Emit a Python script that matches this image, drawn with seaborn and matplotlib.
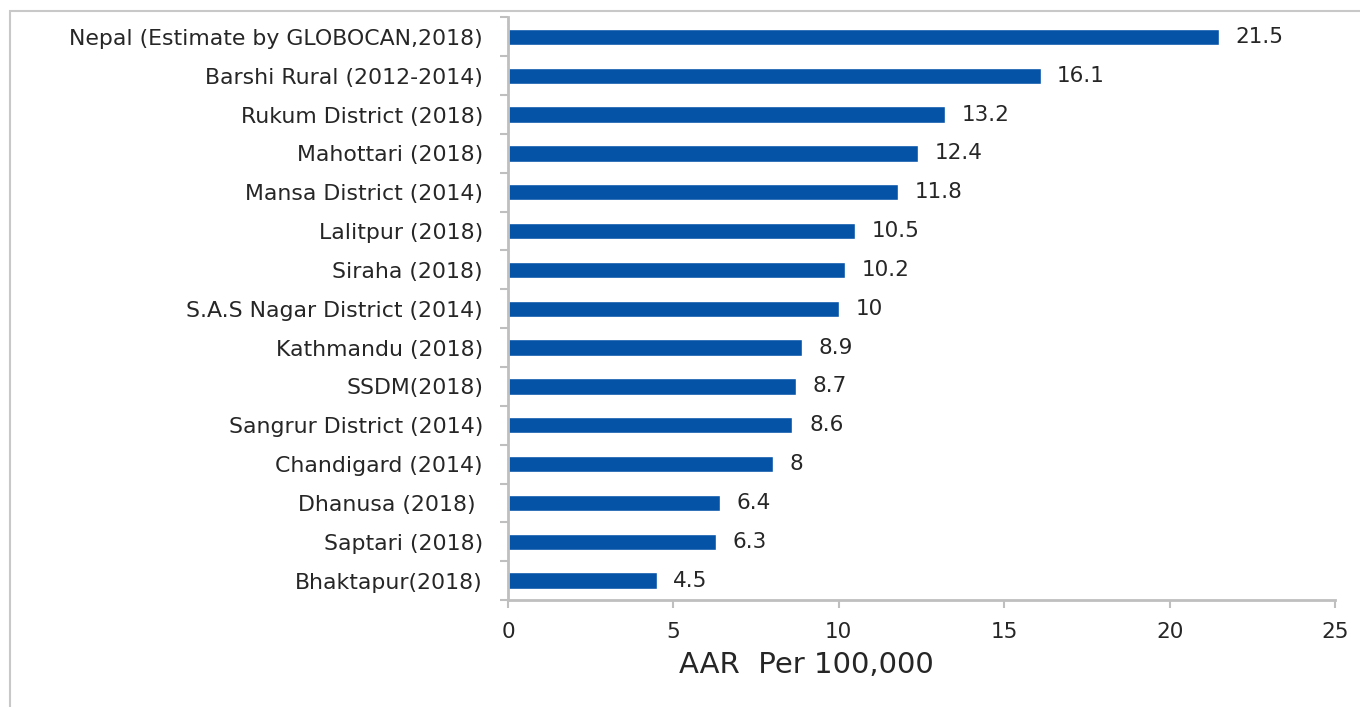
import numpy as np
import pandas as pd
import matplotlib
matplotlib.use("Agg")
import matplotlib.pyplot as plt
import seaborn as sns

# data (top to bottom)
places = ['Nepal (Estimate by GLOBOCAN,2018)', 'Barshi Rural (2012-2014)', 'Rukum District (2018)',
          'Mahottari (2018)', 'Mansa District (2014)', 'Lalitpur (2018)', 'Siraha (2018)',
          'S.A.S Nagar District (2014)', 'Kathmandu (2018)', 'SSDM(2018)', 'Sangrur District (2014)',
          'Chandigard (2014)', 'Dhanusa (2018) ', 'Saptari (2018)', 'Bhaktapur(2018)']
aar = [21.5, 16.1, 13.2, 12.4, 11.8, 10.5, 10.2, 10, 8.9, 8.7, 8.6, 8, 6.4, 6.3, 4.5]
value_labels = ['21.5', '16.1', '13.2', '12.4', '11.8', '10.5', '10.2', '10', '8.9', '8.7',
                '8.6', '8', '6.4', '6.3', '4.5']
xticks = [0, 5, 10, 15, 20, 25]

df = pd.DataFrame({'place': places, 'aar': aar})

sns.set_style('white')
plt.rcParams['font.family'] = ['DejaVu Sans']
txt = '#262626'
grey = '#bfbfbf'

fig = plt.figure(figsize=(13.6, 7.07), dpi=100)
ax = fig.add_axes([508 / 1360, 1 - 600 / 707, (1335 - 508) / 1360, (600 - 17.5) / 707])

sns.barplot(data=df, x='aar', y='place', color='#0553a7', width=0.42, saturation=1, ax=ax)

for i, (v, lab) in enumerate(zip(aar, value_labels)):
    ax.text(v + 0.5, i, lab, va='center', ha='left', fontsize=15.5, color=txt)

ax.set_xlim(0, 25)
ax.set_ylim(14.5, -0.5)
ax.set_xticks(xticks)
ax.set_xticklabels([str(t) for t in xticks])
ax.set_yticks(np.arange(15))
ax.set_yticklabels(places)
ax.tick_params(axis='y', length=0, pad=18, labelsize=15.8, labelcolor=txt)
ax.tick_params(axis='x', bottom=True, length=6, width=1.5, color=grey, direction='out', pad=10,
               labelsize=15.5, labelcolor=txt)

# category separator ticks on the left spine
ax.set_yticks(np.arange(-0.5, 15, 1), minor=True)
ax.tick_params(axis='y', which='minor', left=True, length=6, width=1.5, color=grey, direction='out')

for s in ['top', 'right']:
    ax.spines[s].set_visible(False)
for s in ['left', 'bottom']:
    ax.spines[s].set_color(grey)
    ax.spines[s].set_linewidth(2)

ax.set_ylabel('')
ax.set_xlabel('AAR  Per 100,000', fontsize=21, color=txt)
ax.xaxis.set_label_coords((806 - 508) / (1335 - 508), -0.088)

# outer frame of the original chart area
frame = plt.Rectangle((10 / 1360, -0.1), 1.2, 1 - 11 / 707 + 0.1, transform=fig.transFigure,
                      fill=False, edgecolor='#c8c8c8', linewidth=1.5)
fig.patches.append(frame)

fig.savefig('out.png', dpi=100)
